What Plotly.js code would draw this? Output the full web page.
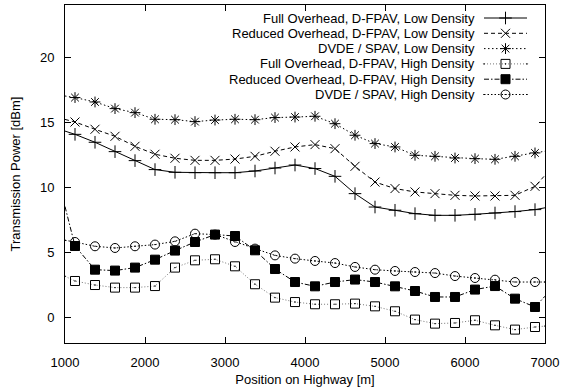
<!DOCTYPE html>
<html>
<head>
<meta charset="utf-8">
<script src="https://cdn.plot.ly/plotly-3.0.1.min.js"></script>
<style>html,body{margin:0;padding:0;background:#fff;}#chart{width:562px;height:390px;}</style>
</head>
<body>
<div id="chart"></div>
<script>
// Position on highway [m] (first and last entries are line ends at the plot border, no marker)
const positions = [1000, 1125, 1375, 1625, 1875, 2125, 2375, 2625, 2875, 3125, 3375, 3625, 3875,
                   4125, 4375, 4625, 4875, 5125, 5375, 5625, 5875, 6125, 6375, 6625, 6875, 7000];

const seriesNames = [
  "Full Overhead, D-FPAV, Low Density",
  "Reduced Overhead, D-FPAV, Low Density",
  "DVDE / SPAV, Low Density",
  "Full Overhead, D-FPAV, High Density",
  "Reduced Overhead, D-FPAV, High Density",
  "DVDE / SPAV, High Density"
];

const fullLow = [14.3, 14.05, 13.44, 12.72, 12.03, 11.34, 11.13, 11.1, 11.1, 11.1, 11.23, 11.46, 11.69,
                 11.42, 10.82, 9.49, 8.46, 8.21, 7.95, 7.82, 7.82, 7.9, 8.0, 8.11, 8.26, 8.4];
const reducedLow = [15.2, 15.0, 14.44, 13.9, 13.13, 12.52, 12.21, 12.05, 12.05, 12.15, 12.36, 12.75, 13.08,
                    13.26, 12.95, 11.59, 10.38, 9.88, 9.62, 9.49, 9.36, 9.31, 9.31, 9.36, 10.05, 10.9];
const dvdeLow = [17.0, 16.88, 16.54, 16.03, 15.72, 15.21, 15.18, 15.03, 15.15, 15.21, 15.18, 15.34, 15.38,
                 15.44, 14.87, 13.98, 13.34, 13.08, 12.44, 12.36, 12.23, 12.18, 12.13, 12.36, 12.62, 12.75];
const fullHigh = [3.13, 2.77, 2.46, 2.26, 2.26, 2.38, 3.8, 4.36, 4.44, 3.9, 2.52, 1.49, 1.15,
                  0.98, 0.98, 1.03, 0.82, 0.44, -0.2, -0.51, -0.46, -0.25, -0.64, -0.97, -0.77, -0.7];
const reducedHigh = [8.5, 5.46, 3.64, 3.57, 3.8, 4.41, 5.11, 5.77, 6.34, 6.23, 5.13, 3.69, 2.69,
                     2.36, 2.69, 2.88, 2.69, 2.36, 2.0, 1.54, 1.54, 2.11, 2.38, 1.41, 0.77, 1.6];
const dvdeHigh = [5.9, 5.77, 5.44, 5.31, 5.44, 5.57, 5.82, 6.41, 6.34, 5.77, 5.26, 4.74, 4.49,
                  4.31, 4.15, 3.85, 3.64, 3.54, 3.46, 3.38, 3.15, 3.0, 2.87, 2.69, 2.69, 2.69];

const xTicks = [1000, 2000, 3000, 4000, 5000, 6000, 7000];
const yTicks = [0, 5, 10, 15, 20];

const values = [fullLow, reducedLow, dvdeLow, fullHigh, reducedHigh, dvdeHigh];
const styles = [
  {dash: "solid", color: "#000", symbol: "cross-thin-open", size: 9},
  {dash: "4px,3px", color: "#000", symbol: "x-thin-open", size: 9},
  {dash: "1.5px,2.5px", color: "#000", symbol: "asterisk-open", size: 9},
  {dash: "1px,2px", color: "#777", symbol: "square-open-dot", size: 9},
  {dash: "5px,2px,1.5px,2px", color: "#000", symbol: "square", size: 9},
  {dash: "1.5px,2px", color: "#000", symbol: "circle-open-dot", size: 9}
];

// Plot geometry in pixels
const W = 562, H = 390;
const M = {l: 65, r: 17, t: 5, b: 47};
const plotRight = W - M.r, plotBottom = H - M.b;

// Key (legend) layout, gnuplot style: right-aligned text, sample on the right
const key = {top: 18, spacing: 15.3, textRight: 477, sampleLeft: 484, sampleRight: 527};

const last = positions.length - 1;
const traces = [];
values.forEach((v, k) => {
  const st = styles[k];
  const sizes = positions.map((_, i) => (i === 0 || i === last) ? 0 : st.size);
  traces.push({
    type: "scatter",
    mode: "lines+markers",
    name: seriesNames[k],
    x: positions,
    y: v,
    line: {color: st.color, width: 1, dash: st.dash},
    marker: {symbol: st.symbol, size: sizes, color: "#000", opacity: 1,
             line: {color: "#000", width: 1}},
    showlegend: false,
    cliponaxis: true
  });
});

// key samples on a pixel-space overlay axis
const font = {family: "'Liberation Sans', Arial, sans-serif", size: 13, color: "#000"};
const annotations = [];
seriesNames.forEach((name, k) => {
  const st = styles[k];
  const yRow = key.top + k * key.spacing;
  const mid = (key.sampleLeft + key.sampleRight) / 2;
  traces.push({
    type: "scatter", mode: "lines+markers", xaxis: "x2", yaxis: "y2",
    x: [key.sampleLeft, mid, key.sampleRight], y: [yRow, yRow, yRow],
    line: {color: st.color, width: 1, dash: st.dash},
    marker: {symbol: st.symbol, size: [0, st.size, 0], color: "#000", opacity: 1,
             line: {color: "#000", width: 1}},
    showlegend: false, hoverinfo: "skip", cliponaxis: false
  });
  annotations.push({
    xref: "x2", yref: "y2", x: key.textRight, y: yRow,
    xanchor: "right", yanchor: "middle", showarrow: false,
    text: name, font: font
  });
});

const layout = {
  width: W, height: H,
  margin: M,
  paper_bgcolor: "#fff", plot_bgcolor: "#fff",
  font: font,
  showlegend: false,
  annotations: annotations,
  xaxis: {
    range: [1000, 7000], tickvals: xTicks, ticktext: xTicks.map(String),
    ticks: "inside", ticklen: 6, tickcolor: "#000", tickwidth: 1,
    showline: true, linecolor: "#000", linewidth: 1, mirror: "allticks",
    showgrid: false, zeroline: false, tickfont: font,
    title: {text: "Position on Highway [m]", font: font, standoff: 6},
    ticklabelstandoff: 7
  },
  yaxis: {
    range: [-2, 24], tickvals: yTicks, ticktext: yTicks.map(String),
    ticks: "inside", ticklen: 6, tickcolor: "#000", tickwidth: 1,
    showline: true, linecolor: "#000", linewidth: 1, mirror: "allticks",
    showgrid: false, zeroline: false, tickfont: font,
    title: {text: "Transmission Power [dBm]", font: font, standoff: 16},
    ticklabelstandoff: 7
  },
  xaxis2: {overlaying: "x", range: [M.l, plotRight], visible: false, fixedrange: true},
  yaxis2: {overlaying: "y", range: [plotBottom, M.t], visible: false, fixedrange: true}
};

Plotly.newPlot("chart", traces, layout, {displayModeBar: false, staticPlot: true});
</script>
</body>
</html>
